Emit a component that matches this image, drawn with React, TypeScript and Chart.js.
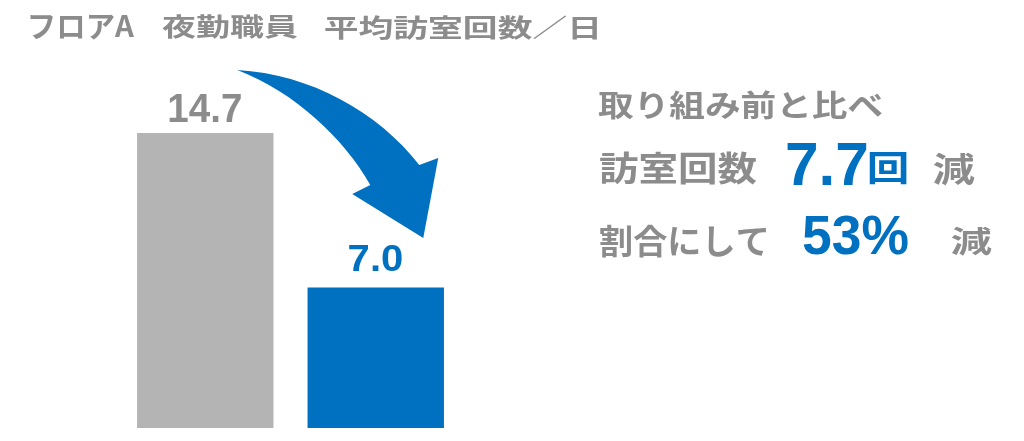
import { useEffect, useRef } from "react"
import { Chart, registerables } from "chart.js"

Chart.register(...registerables)

// data
const categories = ["取り組み前", "取り組み後"]
const visitsPerDay = [14.7, 7.0]
const barColors = ["#b4b4b4", "#0070c0"]
const labelColors = ["#8c8c8c", "#0070c0"]
const titleParts = ["フロアA", "夜勤職員", "平均訪室回数／日"]
const summaryLead = "取り組み前と比べ"
const summaryCount = "7.7"
const summaryRate = "53%"

const GRAY = "#8c8c8c"
const BLUE = "#0070c0"
const JP = '"Noto Sans CJK JP", "Noto Sans", sans-serif'
const NUM = '"Liberation Sans", Arial, sans-serif'

// draw text so that its ink fills the given box
function fitBox(
  ctx: CanvasRenderingContext2D,
  text: string,
  font: string,
  color: string,
  x0: number,
  y0: number,
  x1: number,
  y1: number
) {
  ctx.save()
  ctx.font = font
  ctx.fillStyle = color
  ctx.textBaseline = "alphabetic"
  ctx.textAlign = "left"
  const m = ctx.measureText(text)
  const inkW = m.actualBoundingBoxLeft + m.actualBoundingBoxRight
  const inkH = m.actualBoundingBoxAscent + m.actualBoundingBoxDescent
  const sx = (x1 - x0) / inkW
  const sy = (y1 - y0) / inkH
  ctx.translate(x0 + m.actualBoundingBoxLeft * sx, y0 + m.actualBoundingBoxAscent * sy)
  ctx.scale(sx, sy)
  ctx.fillText(text, 0, 0)
  ctx.restore()
}

const decorPlugin = {
  id: "decor",
  afterDatasetsDraw(chart: Chart) {
    const ctx = chart.ctx
    const meta = chart.getDatasetMeta(0)
    const bars = meta.data as any[]

    // value labels
    const labelW = [72, 54]
    const labelH = [29, 25]
    const labelGap = [11, 17]
    const labelSize = [40, 35]
    bars.forEach((bar, i) => {
      const txt = visitsPerDay[i].toFixed(1)
      const bottom = bar.y - labelGap[i]
      fitBox(
        ctx,
        txt,
        `bold ${labelSize[i]}px ${NUM}`,
        labelColors[i],
        bar.x - labelW[i] / 2,
        bottom - labelH[i],
        bar.x + labelW[i] / 2,
        bottom
      )
    })

    // curved arrow, anchored to the first bar's top
    const a = bars[0]
    const ox = a.x
    const oy = a.y
    const p = (dx: number, dy: number): [number, number] => [ox + dx, oy + dy]
    ctx.save()
    ctx.fillStyle = BLUE
    ctx.beginPath()
    ctx.moveTo(...p(32, -63))
    ctx.bezierCurveTo(...p(105, -59), ...p(173, -21), ...p(214, 32))
    ctx.lineTo(...p(233, 25))
    ctx.lineTo(...p(218, 105))
    ctx.lineTo(...p(147, 61))
    ctx.lineTo(...p(165, 52))
    ctx.bezierCurveTo(...p(140, 7), ...p(90, -41), ...p(32, -63))
    ctx.closePath()
    ctx.fill()
    ctx.restore()

    // title
    fitBox(ctx, titleParts[0], `bold 28px ${JP}`, GRAY, 30, 14, 135, 39)
    fitBox(ctx, titleParts[1], `bold 28px ${JP}`, GRAY, 162, 14, 298, 39)
    fitBox(ctx, titleParts[2], `bold 28px ${JP}`, GRAY, 325, 15, 597, 40)

    // summary text
    fitBox(ctx, summaryLead, `bold 34px ${JP}`, GRAY, 598, 90, 882, 120)
    fitBox(ctx, "訪室回数", `bold 38px ${JP}`, GRAY, 600, 151, 757, 185)
    fitBox(ctx, summaryCount, `bold 57px ${NUM}`, BLUE, 787, 142, 867, 185)
    fitBox(ctx, "回", `bold 37px ${JP}`, BLUE, 869, 152, 907, 185)
    fitBox(ctx, "減", `bold 37px ${JP}`, GRAY, 934, 152, 975, 186)
    fitBox(ctx, "割合にして", `bold 36px ${JP}`, GRAY, 600, 224, 766, 258)
    fitBox(ctx, summaryRate, `bold 55px ${NUM}`, BLUE, 803, 215, 908, 255)
    fitBox(ctx, "減", `bold 36px ${JP}`, GRAY, 952, 225, 992, 255)
  },
}

function VisitsChart() {
  const chartRef = useRef<HTMLCanvasElement>(null)
  const chartInstance = useRef<Chart | null>(null)

  useEffect(() => {
    if (!chartRef.current) return
    if (chartInstance.current) chartInstance.current.destroy()

    const ctx = chartRef.current.getContext("2d")
    if (!ctx) return

    chartInstance.current = new Chart(ctx, {
      type: "bar",
      data: {
        labels: categories,
        datasets: [
          {
            label: "平均訪室回数",
            data: visitsPerDay,
            backgroundColor: barColors,
            borderWidth: 0,
            barPercentage: 0.8,
            categoryPercentage: 1,
          },
        ],
      },
      options: {
        animation: false,
        responsive: true,
        maintainAspectRatio: false,
        layout: {
          padding: { left: 120, right: 563, top: 107, bottom: 13 },
        },
        scales: {
          x: { display: false },
          y: { display: false, min: 0, max: 16 },
        },
        plugins: {
          legend: { display: false },
          tooltip: { enabled: false },
        },
      },
      plugins: [decorPlugin],
    })

    return () => {
      if (chartInstance.current) {
        chartInstance.current.destroy()
        chartInstance.current = null
      }
    }
  }, [])

  return <canvas ref={chartRef} />
}

export default function App() {
  useEffect(() => {
    document.body.style.margin = "0"
  }, [])

  return (
    <div style={{ width: 1024, height: 441, position: "relative", background: "#fff" }}>
      <VisitsChart />
    </div>
  )
}
